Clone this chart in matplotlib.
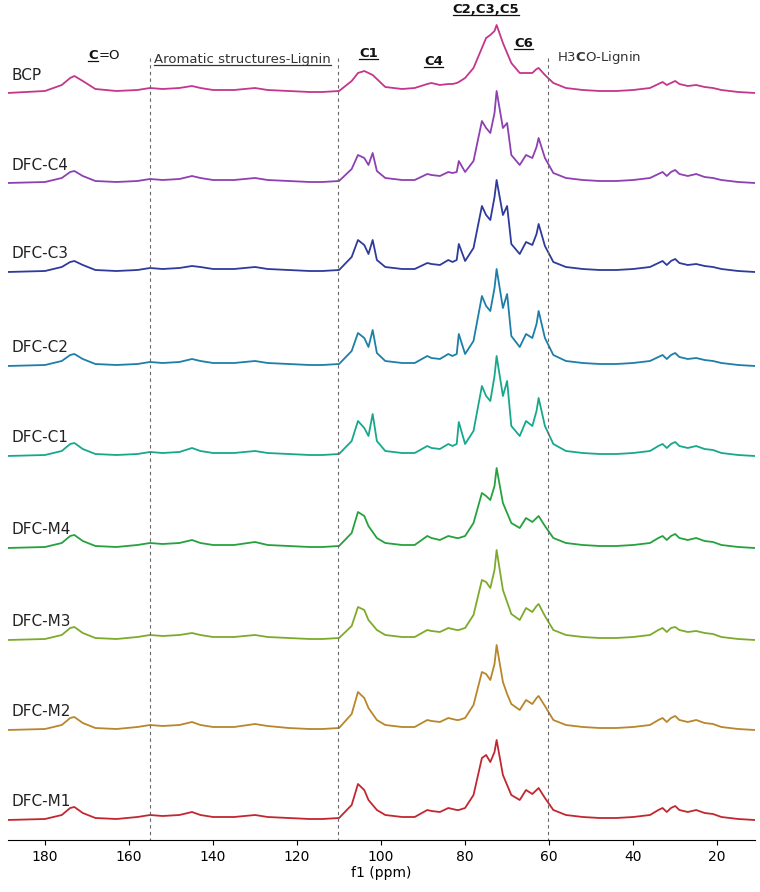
import matplotlib.pyplot as plt
import matplotlib as mpl

mpl.rcParams['mathtext.fontset'] = 'dejavusans'

# chemical shift grid (ppm) shared by all traces
ppm = [189, 180, 176, 174, 173, 171, 168, 163, 158, 155, 152, 148, 145, 143, 140, 135, 130, 127,
       122, 117, 114, 110, 107, 105.5, 104, 103, 102, 101, 99, 95, 92, 89, 88, 86, 84, 83, 82,
       81.5, 80, 78, 76, 75, 74, 73, 72.5, 71, 70, 69, 67, 65.5, 64, 63, 62.5, 61, 59, 56, 52,
       48, 44, 40, 36, 34, 33, 32, 31, 30, 29, 27, 25, 23, 21, 19, 15, 11]

names = ['BCP', 'DFC-C4', 'DFC-C3', 'DFC-C2', 'DFC-C1', 'DFC-M4', 'DFC-M3', 'DFC-M2', 'DFC-M1']
colors = ['#c4368c', '#8e40b2', '#2e3a9c', '#1c7fa9', '#17a88c', '#25a23d', '#7eaa2c', '#b8862b', '#c2272f']
baselines = [93, 183, 272, 366, 456, 548, 640, 730, 820]  # pixel rows from top

bcp = [0, 2, 8, 15, 17, 12, 4, 2, 3, 5, 4, 5, 7, 5, 3, 3, 5, 3, 2, 1, 1, 2, 12, 20, 22, 20, 18, 14,
       6, 4, 5, 9, 10, 8, 9, 9, 10, 11, 15, 25, 45, 55, 58, 62, 68, 50, 40, 30, 20, 20, 20, 24, 25, 18,
       10, 5, 3, 2, 2, 3, 5, 9, 11, 8, 10, 12, 9, 7, 8, 6, 5, 3, 1, 0]
c4 = [0, 1, 5, 11, 12, 7, 2, 1, 2, 4, 3, 4, 7, 5, 3, 3, 5, 3, 2, 1, 1, 2, 14, 28, 25, 18, 30, 12,
      5, 3, 3, 9, 8, 7, 11, 10, 11, 22, 11, 22, 62, 55, 50, 70, 92, 55, 60, 28, 18, 28, 25, 36, 45, 25,
      10, 5, 3, 2, 2, 3, 5, 9, 11, 7, 11, 13, 9, 7, 9, 6, 5, 3, 1, 0]
c3 = [0, 1, 5, 10, 11, 7, 2, 1, 2, 4, 3, 4, 6, 5, 3, 3, 5, 3, 2, 1, 1, 2, 15, 32, 27, 18, 32, 12,
      5, 3, 3, 9, 8, 7, 12, 10, 12, 28, 11, 24, 66, 57, 52, 75, 92, 57, 66, 28, 18, 30, 27, 38, 48, 26,
      10, 5, 3, 2, 2, 3, 5, 9, 11, 7, 11, 13, 9, 7, 8, 6, 5, 3, 1, 0]
c2 = [0, 1, 5, 11, 12, 7, 2, 1, 2, 4, 3, 4, 7, 5, 3, 3, 5, 3, 2, 1, 1, 2, 15, 33, 28, 19, 36, 13,
      5, 3, 3, 10, 8, 7, 12, 10, 12, 32, 12, 25, 70, 60, 55, 78, 97, 58, 72, 30, 19, 32, 28, 42, 55, 28,
      11, 5, 3, 2, 2, 3, 5, 9, 11, 7, 11, 13, 9, 7, 8, 6, 5, 3, 1, 0]
c1 = [0, 1, 5, 12, 13, 7, 2, 1, 2, 4, 3, 4, 8, 5, 3, 3, 5, 3, 2, 1, 1, 2, 15, 35, 28, 20, 42, 15,
      5, 3, 3, 10, 8, 7, 12, 10, 12, 34, 12, 25, 70, 60, 55, 80, 100, 60, 75, 30, 20, 35, 30, 45, 58, 30,
      12, 5, 3, 2, 2, 3, 5, 10, 12, 8, 12, 14, 10, 8, 10, 7, 6, 3, 1, 0]
m4 = [0, 1, 5, 12, 13, 7, 2, 1, 3, 5, 4, 5, 8, 5, 3, 3, 6, 3, 2, 1, 1, 2, 15, 36, 32, 22, 16, 10,
      5, 3, 3, 12, 10, 8, 12, 11, 10, 10, 12, 25, 55, 52, 48, 62, 80, 45, 35, 25, 20, 30, 26, 30, 32, 22,
      10, 5, 3, 2, 2, 3, 5, 10, 12, 8, 12, 14, 10, 8, 10, 7, 6, 3, 1, 0]
m3 = [0, 1, 5, 12, 13, 7, 2, 1, 3, 5, 4, 5, 7, 5, 3, 3, 5, 3, 2, 1, 1, 2, 14, 33, 30, 20, 15, 10,
      5, 3, 3, 10, 9, 8, 12, 11, 10, 10, 12, 25, 60, 58, 52, 70, 90, 50, 38, 26, 20, 32, 28, 34, 36, 24,
      10, 5, 3, 2, 2, 3, 5, 10, 12, 8, 12, 13, 10, 8, 9, 7, 6, 3, 1, 0]
m2 = [0, 1, 5, 12, 13, 7, 2, 1, 3, 5, 4, 5, 8, 5, 3, 3, 6, 4, 2, 1, 1, 2, 16, 38, 32, 22, 16, 10,
      5, 3, 3, 10, 9, 8, 12, 11, 10, 10, 12, 25, 58, 56, 50, 66, 85, 48, 36, 26, 20, 30, 26, 32, 34, 24,
      10, 5, 3, 2, 2, 3, 5, 10, 12, 8, 12, 14, 10, 8, 10, 7, 6, 3, 1, 0]
m1 = [0, 1, 5, 12, 13, 7, 2, 1, 3, 5, 4, 5, 8, 5, 3, 3, 5, 3, 2, 1, 1, 2, 15, 36, 30, 20, 15, 10,
      5, 3, 3, 10, 9, 8, 12, 11, 10, 10, 12, 25, 62, 65, 58, 68, 80, 45, 35, 25, 20, 30, 26, 30, 32, 22,
      10, 5, 3, 2, 2, 3, 5, 10, 12, 8, 12, 14, 10, 8, 10, 7, 6, 3, 1, 0]
spectra = [bcp, c4, c3, c2, c1, m4, m3, m2, m1]

region_lines = [155, 110.2, 60.2]

fig = plt.figure(figsize=(7.6, 8.92), dpi=100)
ax = fig.add_axes([8 / 760, 1 - 840 / 892, 747 / 760, 840 / 892])

for name, col, base, vals in zip(names, colors, baselines, spectra):
    ax.plot(ppm, [-base + v for v in vals], color=col, lw=1.3)
    ax.text(188, -base + 18, name, fontsize=11, color='#222222', va='center')

for x in region_lines:
    ax.plot([x, x], [-58, -840], color='#666666', lw=0.8, ls=(0, (3, 3)))

# (text, x ppm, y, weight, colour, underline whole text?)
labels = [
    ('C', 168.5, -62, 'bold', '#111111', True),
    ('=O', 164.6, -62, 'normal', '#111111', False),
    ('Aromatic structures-Lignin', 133, -66, 'normal', '#333333', True),
    ('C1', 103, -60, 'bold', '#111111', True),
    ('C4', 87.5, -68, 'bold', '#111111', True),
    ('C2,C3,C5', 75, -16, 'bold', '#111111', True),
    ('C6', 66, -50, 'bold', '#111111', True),
    (r'H3$\mathbf{C}$O-Lignin', 48, -66, 'normal', '#333333', False),
]
texts = []
for s, x, y, w, c, ul in labels:
    t = ax.text(x, y, s, fontsize=9.5, ha='center', va='bottom', weight=w, color=c)
    texts.append((t, ul, c))

ax.set_xlim(188.8, 11)
ax.set_ylim(-840, 0)
ax.set_xticks([180, 160, 140, 120, 100, 80, 60, 40, 20])
ax.set_yticks([])
for s in ['top', 'left', 'right']:
    ax.spines[s].set_visible(False)
ax.tick_params(axis='x', labelsize=10, direction='out')
ax.set_xlabel('f1 (ppm)', fontsize=10, labelpad=2)

# underline labels
fig.canvas.draw()
r = fig.canvas.get_renderer()
inv = fig.transFigure.inverted()
for t, ul, c in texts:
    if not ul:
        continue
    bb = t.get_window_extent(r)
    (x0, y0), (x1, _) = inv.transform([(bb.x0, bb.y0 + 1), (bb.x1, bb.y0)])
    fig.add_artist(plt.Line2D([x0, x1], [y0, y0], color=c, lw=0.9, transform=fig.transFigure))

fig.savefig('out.png', dpi=100)
